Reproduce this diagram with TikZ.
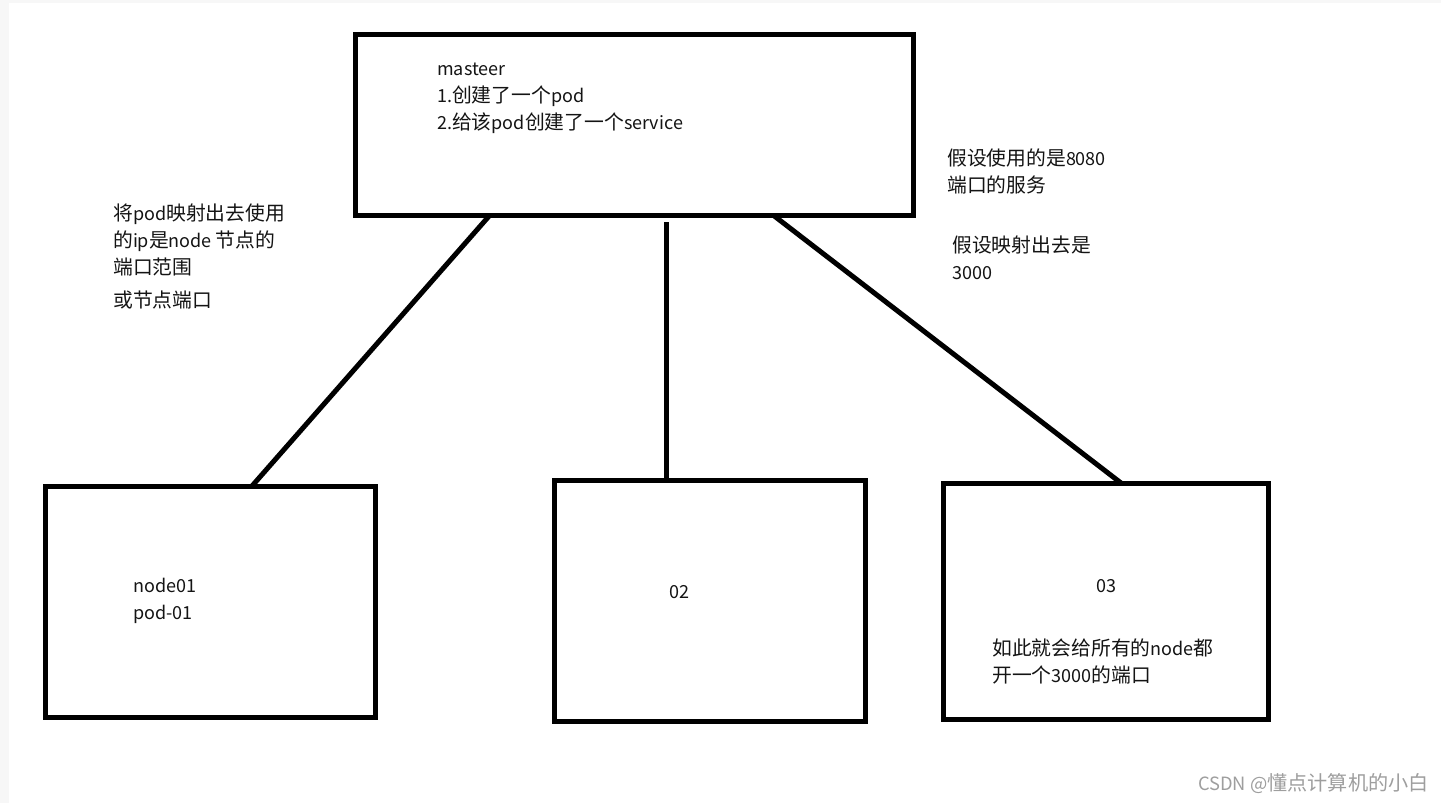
\documentclass[tikz,border=0pt]{standalone}
\usepackage{fontspec}
\setmainfont{Noto Sans CJK SC}
\newfontfamily\cjkf{Noto Sans CJK SC}[Scale=1.1]
\newXeTeXintercharclass\mycjkclass
\makeatletter
\count@="4E00
\loop
  \XeTeXcharclass\count@=\mycjkclass
  \advance\count@ by 1
\ifnum\count@<"A000 \repeat
\makeatother
\XeTeXinterchartokenstate=1
\XeTeXinterchartoks 0 \mycjkclass = {\cjkf}
\XeTeXinterchartoks 4095 \mycjkclass = {\cjkf}
\XeTeXinterchartoks \mycjkclass 0 = {\rmfamily}
\begin{document}
\begin{tikzpicture}[x=1pt,y=-1pt,
  box/.style={draw=black,line width=5pt},
  link/.style={draw=black,line width=5pt},
  txt/.style={anchor=base west,inner sep=0pt,align=left,text=black!92,font=\fontsize{18}{27}\selectfont}]
\useasboundingbox (0,0) rectangle (1441,803);
\fill[black!3] (0,0) rectangle (1441,803);
\fill[white] (9,3) rectangle (1441,803);
% boxes
\draw[box] (355,34) rectangle (913,215);
\coordinate (mA) at (490,215);
\coordinate (mB) at (666,222);
\coordinate (mC) at (773,215);
\draw[box] (45,486) rectangle (375,717);
\draw[box] (554,480) rectangle (865,721);
\draw[box] (943,483) rectangle (1268,719);
\coordinate (n1) at (252,486);
\coordinate (n2) at (666,480);
\coordinate (n3) at (1121,483);
% connectors
\draw[link] (mA) -- (n1);
\draw[link] (mB) -- (n2);
\draw[link] (mC) -- (n3);
% texts (base anchor = last line's baseline)
\node[txt] (tm) at (437,129) {masteer\\1.创建了一个pod\\2.给该pod创建了一个service};
\node[txt] (tl) at (113,274) {将pod映射出去使用\\的ip是node 节点的\\端口范围};
\node[txt] (tl2) at (113,307) {或节点端口};
\node[txt] (tr) at (947,192) {假设使用的是8080\\端口的服务};
\node[txt] (tr2) at (952,279) {假设映射出去是\\3000};
\node[txt] (t1) at (133,619) {node01\\pod-01};
\node[txt] (t2) at (669,598) {02};
\node[txt] (t3) at (1096,592) {03};
\node[txt] (t3b) at (992,682) {如此就会给所有的node都\\开一个3000的端口};
\node[txt,text=black!38,font=\fontsize{18.3}{20}\selectfont] (wm) at (1198,790) {CSDN @懂点计算机的小白};
\end{tikzpicture}
\end{document}
